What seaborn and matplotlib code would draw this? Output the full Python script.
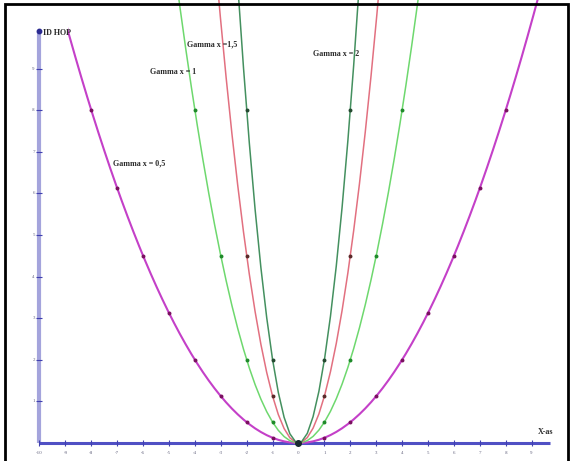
import numpy as np
import pandas as pd
import matplotlib
matplotlib.use("Agg")
import matplotlib.pyplot as plt
import seaborn as sns
from matplotlib.patches import Rectangle

# ---- data ----
curve_labels = ["Gamma x = 0,5", "Gamma x = 1", "Gamma x =1,5", "Gamma x = 2"]
x_g05 = [-8, -7, -6, -5, -4, -3, -2, -1, 0, 1, 2, 3, 4, 5, 6, 7, 8]
y_g05 = [8, 6.125, 4.5, 3.125, 2, 1.125, 0.5, 0.125, 0, 0.125, 0.5, 1.125, 2, 3.125, 4.5, 6.125, 8]
x_g1 = [-4, -3, -2, -1, 0, 1, 2, 3, 4]
y_g1 = [8, 4.5, 2, 0.5, 0, 0.5, 2, 4.5, 8]
x_g15 = [-2, -1, 0, 1, 2]
y_g15 = [4.5, 1.125, 0, 1.125, 4.5]
x_g2 = [-2, -1, 0, 1, 2]
y_g2 = [8, 2, 0, 2, 8]
x_tick_values = list(range(-10, 10))
y_tick_values = list(range(1, 10))
y_axis_label = "ID HOP"
x_axis_label = "X-as"

sns.set_style("white")
plt.rcParams["font.family"] = ["Liberation Serif", "DejaVu Serif"]

fig = plt.figure(figsize=(5.74, 4.61), dpi=100)
ax = fig.add_axes([0, 0, 1, 1])
ax.set_axis_off()
ax.set_xlim(-11.525, 10.637)
ax.set_ylim(-0.433, 10.649)

series = [
    (x_g05, y_g05, "#c440c8", "#7a1060", 1.5),
    (x_g1, y_g1, "#6ed86e", "#1f8a2a", 1.1),
    (x_g15, y_g15, "#e27080", "#5a2a2a", 1.1),
    (x_g2, y_g2, "#44905f", "#244a30", 1.1),
]

# axes (decorative)
ax.plot([-10, -10], [0, 9.9], color="#a4a4dc", lw=3, zorder=1, solid_capstyle="butt")
ax.plot([-10, 9.7], [0, 0], color="#5050c4", lw=2.2, zorder=1, solid_capstyle="butt")
ax.plot([-10], [9.9], marker="o", ms=3.2, color="#2a2a90", zorder=2)

for i, (xs, ys, lc, mc, lw) in enumerate(series):
    df = pd.DataFrame({"x": xs, "y": ys})
    n_before = len(ax.lines)
    sns.regplot(data=df, x="x", y="y", order=2, ci=None, scatter=False,
                truncate=False, line_kws=dict(color=lc, lw=lw, zorder=3), ax=ax)
    if i == 0:
        clip = Rectangle((-8.9, -1), 30, 20, transform=ax.transData)
        for ln in ax.lines[n_before:]:
            ln.set_clip_path(clip)

for xs, ys, lc, mc, lw in series:
    df = pd.DataFrame({"x": xs, "y": ys})
    sns.scatterplot(data=df, x="x", y="y", color=mc, s=8, linewidth=0, zorder=4, ax=ax)

ax.plot([0], [0], marker="o", ms=4, color="#1a2a30", zorder=5)
ax.set_xlim(-11.525, 10.637)
ax.set_ylim(-0.433, 10.649)

# ticks
ax.plot(x_tick_values, [0] * len(x_tick_values), ls="none", marker="|", ms=5,
        mew=0.8, color="#4040b0", zorder=2)
ax.plot([-10] * len(y_tick_values), y_tick_values, ls="none", marker="_", ms=5,
        mew=0.8, color="#4040b0", zorder=2)
for xv in x_tick_values:
    ax.text(xv, -0.23, str(xv), fontsize=3.6, ha="center", va="center", color="#666680")
for yv in y_tick_values:
    ax.text(-10.18, yv, str(yv), fontsize=3.6, ha="right", va="center", color="#666680")

tstyle = dict(fontsize=5.8, fontweight="bold", color="#2a2a2a", va="center", ha="left")
ax.text(-9.85, 9.86, y_axis_label, **tstyle)
ax.text(9.25, 0.26, x_axis_label, **tstyle)
label_pos = [(-7.16, 6.71), (-5.73, 8.92), (-4.3, 9.57), (0.56, 9.35)]
for lab, (lx, ly) in zip(curve_labels, label_pos):
    ax.text(lx, ly, lab, **tstyle)

# frame
fig.patches.append(Rectangle((5 / 574, -0.02), (568 - 5) / 574, 1 - 4 / 461 + 0.02,
                             transform=fig.transFigure, fill=False,
                             edgecolor="black", lw=2, zorder=10))

fig.savefig("out.png", dpi=100)
